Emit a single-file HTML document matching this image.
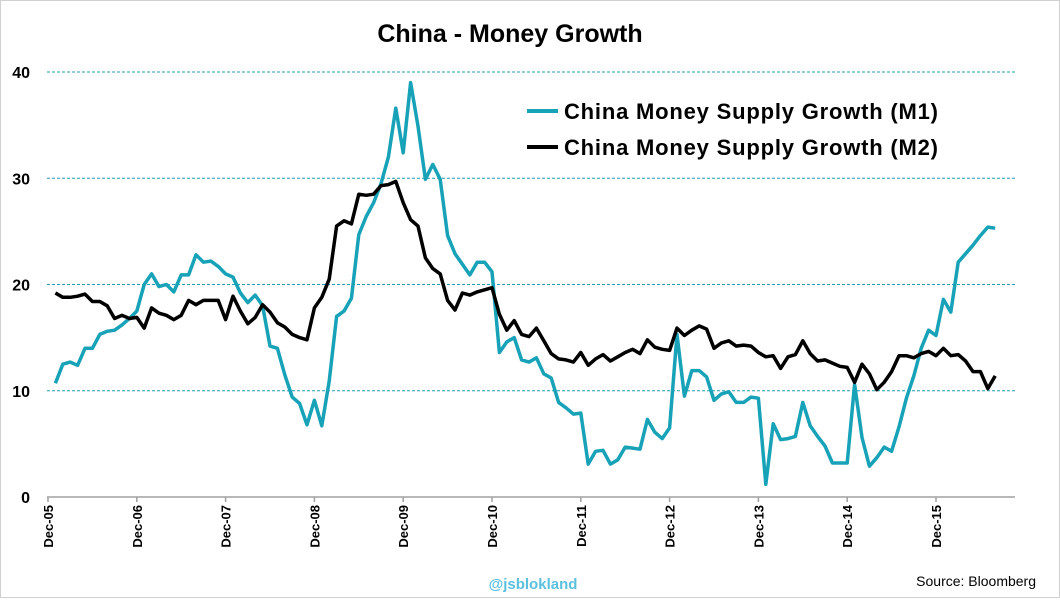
<!DOCTYPE html>
<html><head><meta charset="utf-8"><style>
body{margin:0;background:#fff;font-family:"Liberation Sans",sans-serif}
svg text{font-family:"Liberation Sans",sans-serif}
</style></head><body>
<svg id="c" width="1060" height="598">
<rect x="0.5" y="0.5" width="1059" height="597" fill="#fff" stroke="#d0d0d0"/>
<text x="510" y="42" text-anchor="middle" font-size="25" font-weight="bold" fill="#000">China - Money Growth</text>
<g id="grid"></g><g id="xax"></g><g id="yax"></g><g id="series"></g>
<g>
<line x1="527" y1="111" x2="558" y2="111" stroke="#17a2b8" stroke-width="4"/>
<text x="564" y="119" font-size="22" font-weight="bold" textLength="374">China Money Supply Growth (M1)</text>
<line x1="527" y1="147" x2="558" y2="147" stroke="#000" stroke-width="4"/>
<text x="564" y="155" font-size="22" font-weight="bold" textLength="374">China Money Supply Growth (M2)</text>
</g>
<text x="533" y="589" text-anchor="middle" font-size="15" font-weight="bold" fill="#5bc0de">@jsblokland</text>
<text x="1036" y="586" text-anchor="end" font-size="14" fill="#000">Source: Bloomberg</text>
</svg>
<script>
const xLabels=["Dec-05","Dec-06","Dec-07","Dec-08","Dec-09","Dec-10","Dec-11","Dec-12","Dec-13","Dec-14","Dec-15"];
const yTicks=[0,10,20,30,40];
const m1=[10.7,12.5,12.7,12.4,14.0,14.0,15.3,15.6,15.7,16.2,16.8,17.5,
20.0,21.0,19.8,20.0,19.3,20.9,20.9,22.8,22.1,22.2,21.7,21.0,
20.7,19.2,18.3,19.0,18.0,14.2,14.0,11.5,9.4,8.8,6.8,9.1,
6.7,10.9,17.0,17.5,18.7,24.7,26.4,27.7,29.5,32.0,36.6,32.4,
39.0,34.9,29.9,31.3,29.9,24.6,22.9,21.9,20.9,22.1,22.1,21.2,
13.6,14.6,15.0,12.9,12.7,13.1,11.6,11.2,8.9,8.4,7.8,7.9,
3.1,4.3,4.4,3.1,3.5,4.7,4.6,4.5,7.3,6.1,5.5,6.5,
15.3,9.5,11.9,11.9,11.3,9.1,9.7,9.9,8.9,8.9,9.4,9.3,
1.2,6.9,5.4,5.5,5.7,8.9,6.7,5.7,4.8,3.2,3.2,3.2,
10.6,5.6,2.9,3.7,4.7,4.3,6.6,9.3,11.4,14.0,15.7,15.2,
18.6,17.4,22.1,22.9,23.7,24.6,25.4,25.3];
const m2=[19.2,18.8,18.8,18.9,19.1,18.4,18.4,18.0,16.8,17.1,16.8,16.9,
15.9,17.8,17.3,17.1,16.7,17.1,18.5,18.1,18.5,18.5,18.5,16.7,
18.9,17.5,16.3,16.9,18.1,17.4,16.4,16.0,15.3,15.0,14.8,17.8,
18.8,20.5,25.5,26.0,25.7,28.5,28.4,28.5,29.3,29.4,29.7,27.7,
26.1,25.5,22.5,21.5,21.0,18.5,17.6,19.2,19.0,19.3,19.5,19.7,
17.2,15.7,16.6,15.3,15.1,15.9,14.7,13.5,13.0,12.9,12.7,13.6,
12.4,13.0,13.4,12.8,13.2,13.6,13.9,13.5,14.8,14.1,13.9,13.8,
15.9,15.2,15.7,16.1,15.8,14.0,14.5,14.7,14.2,14.3,14.2,13.6,
13.2,13.3,12.1,13.2,13.4,14.7,13.5,12.8,12.9,12.6,12.3,12.2,
10.8,12.5,11.6,10.1,10.8,11.8,13.3,13.3,13.1,13.5,13.7,13.3,
14.0,13.3,13.4,12.8,11.8,11.8,10.2,11.4];
const NS='http://www.w3.org/2000/svg';
const X0=48,PX_Y=88.8,Y0=497,PX_V=10.625;
const xm=i=>X0+(i+1)*PX_Y/12;
const yv=v=>Y0-v*PX_V;
function mk(t,a,p){const e=document.createElementNS(NS,t);for(const k in a)e.setAttribute(k,a[k]);p.appendChild(e);return e;}
const grid=document.getElementById('grid'),xax=document.getElementById('xax'),yax=document.getElementById('yax'),ser=document.getElementById('series');
yTicks.forEach(v=>{
 if(v>0){const l=mk('line',{x1:47,x2:1015,y1:yv(v),y2:yv(v),stroke:'#1f9bb3','stroke-width':1,'stroke-dasharray':'3,2'},grid);
 
 }
 const t=mk('text',{x:30,y:yv(v)+6,'text-anchor':'end','font-size':16,'font-weight':'bold'},yax);t.textContent=v;
 
 
});
const ax=mk('line',{x1:47,x2:1015,y1:Y0,y2:Y0,stroke:'#a0a0a0','stroke-width':1.5},xax);


xLabels.forEach((s,i)=>{const x=X0+i*PX_Y;
 const tk=mk('line',{x1:x,x2:x,y1:Y0,y2:Y0+5,stroke:'#a0a0a0','stroke-width':1.5},xax);
 
 
 const t=mk('text',{x:0,y:0,'text-anchor':'end','font-size':13,'font-weight':'bold',transform:`translate(${x+5},${Y0+8}) rotate(-90)`},xax);t.textContent=s;
 
 
});
function line(arr,col,name){const p=mk('polyline',{points:arr.map((v,i)=>xm(i).toFixed(1)+','+yv(v).toFixed(1)).join(' '),fill:'none',stroke:col,'stroke-width':3.5,'stroke-linejoin':'round'},ser);
 
 }
line(m1,'#17a2b8','m1-line');
line(m2,'#000','m2-line');
</script>
</body></html>
